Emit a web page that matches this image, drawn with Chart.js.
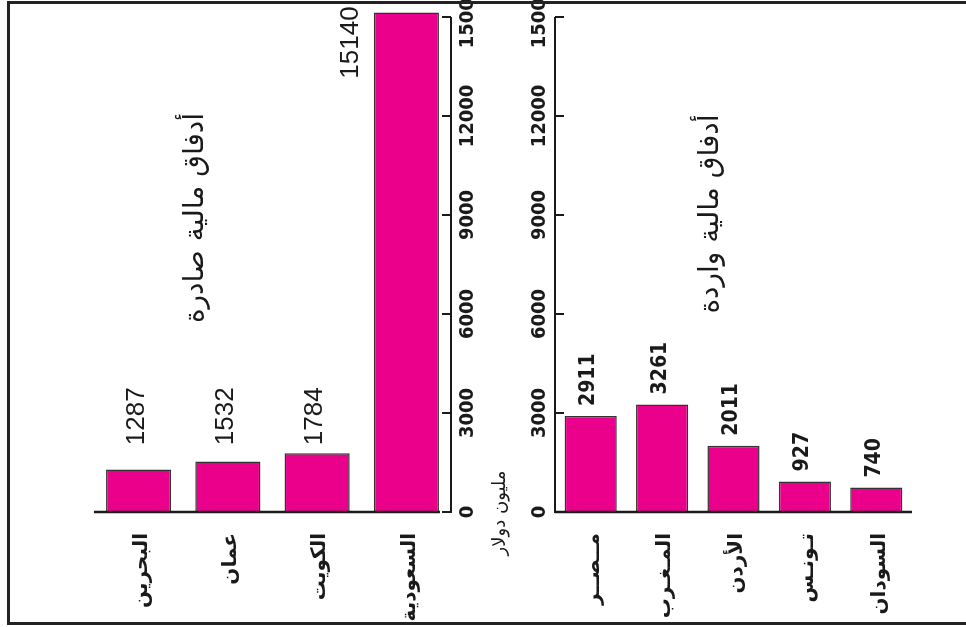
<!DOCTYPE html>
<html>
<head>
<meta charset="utf-8">
<script src="https://cdn.jsdelivr.net/npm/chart.js@4.4.1/dist/chart.umd.min.js"></script>
<style>
    html, body { margin: 0; padding: 0; background: #fff; }
    #wrap { position: relative; width: 966px; height: 627px; overflow: hidden; }
    #wrap canvas { position: absolute; left: 0; top: 0; }
    #frame { position: absolute; left: 7px; top: 1px; width: 990px; height: 624px; border: 3px solid #222; box-sizing: border-box; pointer-events: none; }
</style>
</head>
<body>
<div id="wrap">
    <canvas id="out-chart" width="966" height="627"></canvas>
    <canvas id="in-chart" width="966" height="627"></canvas>
    <div id="frame"></div>
</div>
<script>
const outCountries = ['البحرين', 'عمان', 'الكويت', 'السعودية'];
const outValues = [1287, 1532, 1784, 15140];
const inCountries = ['مــصــر', 'المـغـرب', 'الأردن', 'تـونـس', 'السودان'];
const inValues = [2911, 3261, 2011, 927, 740];
const yTicks = [0, 3000, 6000, 9000, 12000, 15000];
const outTitle = 'أدفاق مالية صادرة';
const inTitle = 'أدفاق مالية واردة';
const unitLabel = 'مليون دولار';

const BAR_FILL = '#EB008B';
const BAR_EDGE = '#333';
const INK = '#1a1a1a';
const NARROW = "'Liberation Sans Narrow', 'DejaVu Sans Condensed', sans-serif";

function rotatedText(ctx, text, x, y, align) {
    ctx.save();
    ctx.translate(x, y);
    ctx.rotate(-Math.PI / 2);
    ctx.textAlign = align;
    ctx.textBaseline = 'middle';
    ctx.fillText(text, 0, 0);
    ctx.restore();
}

const sidewaysAxes = {
    id: 'sidewaysAxes',
    afterDatasetsDraw(chart, args, opts) {
        const { ctx, chartArea, scales: { y } } = chart;
        const bars = chart.getDatasetMeta(0).data;
        const values = chart.data.datasets[0].data;
        const onRight = opts.axisSide === 'right';
        const axisX = onRight ? chartArea.right : chartArea.left;
        const inward = onRight ? -1 : 1;
        const zeroY = y.getPixelForValue(0);

        ctx.save();
        ctx.strokeStyle = INK;
        ctx.fillStyle = INK;

        // value axis, ticks point toward the bars
        ctx.lineWidth = 2;
        ctx.beginPath();
        ctx.moveTo(axisX, zeroY + 1);
        ctx.lineTo(axisX, y.getPixelForValue(yTicks[yTicks.length - 1]));
        yTicks.forEach(v => {
            const py = y.getPixelForValue(v);
            ctx.moveTo(axisX, py);
            ctx.lineTo(axisX + inward * 9, py);
        });
        ctx.stroke();

        // baseline
        const last = bars[bars.length - 1];
        const baseEnd = onRight ? last.x + last.width / 2 + 1 : chartArea.right;
        ctx.lineWidth = 2.5;
        ctx.beginPath();
        ctx.moveTo(chartArea.left, zeroY);
        ctx.lineTo(baseEnd, zeroY);
        ctx.stroke();

        // tick labels
        ctx.font = 'bold 20px ' + NARROW;
        yTicks.forEach(v => {
            rotatedText(ctx, String(v), axisX + opts.tickLabelOffset, y.getPixelForValue(v), 'center');
        });

        // value labels
        ctx.font = opts.valueFont;
        bars.forEach((bar, i) => {
            const top = y.getPixelForValue(values[i]);
            if (top - 70 < chartArea.top) {
                rotatedText(ctx, String(values[i]), bar.x - bar.width / 2 - 23, top - 6, 'right');
            } else if (opts.labelLevel != null) {
                rotatedText(ctx, String(values[i]), bar.x - 2, y.getPixelForValue(opts.labelLevel), 'center');
            } else {
                rotatedText(ctx, String(values[i]), bar.x - 2, top - 10, 'left');
            }
        });

        // category labels under the bars
        ctx.font = "bold 20px 'DejaVu Sans', sans-serif";
        chart.data.labels.forEach((lab, i) => {
            rotatedText(ctx, lab, bars[i].x + 3, zeroY + 21, 'right');
        });

        // panel title
        ctx.font = "28px 'DejaVu Sans', sans-serif";
        rotatedText(ctx, opts.title, opts.titleX, opts.titleY, 'center');

        if (opts.unit) {
            ctx.font = "18px 'DejaVu Sans', sans-serif";
            rotatedText(ctx, opts.unit, axisX - 55, zeroY + 1, 'center');
        }
        ctx.restore();
    }
};

function makeChart(id, labels, values, padding, axisOpts) {
    return new Chart(document.getElementById(id), {
        type: 'bar',
        data: {
            labels: labels,
            datasets: [{
                data: values,
                backgroundColor: BAR_FILL,
                borderColor: BAR_EDGE,
                borderWidth: 1.5,
                barPercentage: 0.73,
                categoryPercentage: 1,
                clip: false
            }]
        },
        options: {
            responsive: false,
            animation: false,
            devicePixelRatio: 1,
            layout: { padding: padding },
            plugins: {
                legend: { display: false },
                tooltip: { enabled: false },
                sidewaysAxes: axisOpts
            },
            scales: {
                x: { display: false },
                y: { display: false, min: 0, max: 15000 }
            }
        },
        plugins: [sidewaysAxes]
    });
}

makeChart('out-chart', outCountries, outValues,
    { left: 94, right: 515, top: 17, bottom: 115 },
    { axisSide: 'right', tickLabelOffset: 17, valueFont: "26px 'Liberation Sans', Arial, sans-serif",
      labelLevel: 2900, title: outTitle, titleX: 196, titleY: 218 });

makeChart('in-chart', inCountries, inValues,
    { left: 555, right: 54, top: 17, bottom: 115 },
    { axisSide: 'left', tickLabelOffset: -15, valueFont: 'bold 21px ' + NARROW,
      title: inTitle, titleX: 711, titleY: 214, unit: unitLabel });
</script>
</body>
</html>
